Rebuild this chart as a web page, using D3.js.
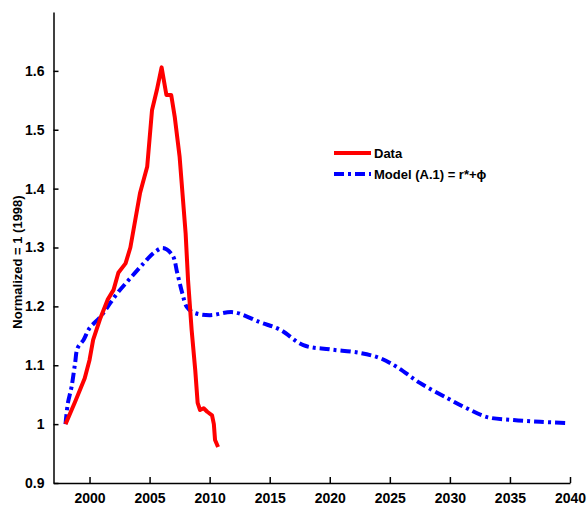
<!DOCTYPE html>
<html>
<head>
<meta charset="utf-8">
<script src="https://cdn.jsdelivr.net/npm/d3@7"></script>
<style>
  body { margin: 0; background: #fff; }
  svg text { font-family: "Liberation Sans", Arial, sans-serif; font-weight: bold; fill: #000; }
</style>
</head>
<body>
<div class="graph"></div>
<script>
// data
const dataYears = [1998, 1998.8, 1999.6, 2000.0, 2000.3, 2000.9, 2001.5, 2002.0, 2002.4, 2003.0, 2003.4, 2004.2, 2004.8, 2005.2, 2005.6, 2006.0, 2006.4, 2006.8, 2007.1, 2007.5, 2008.0, 2008.2, 2008.5, 2008.8, 2009.0, 2009.2, 2009.5, 2009.8, 2010.2, 2010.35, 2010.45, 2010.7];
const dataValues = [1.0, 1.038, 1.078, 1.109, 1.143, 1.18, 1.211, 1.228, 1.257, 1.273, 1.30, 1.392, 1.437, 1.533, 1.567, 1.606, 1.559, 1.559, 1.521, 1.454, 1.324, 1.245, 1.16, 1.092, 1.036, 1.024, 1.027, 1.021, 1.015, 1.0, 0.973, 0.961];

const modelYears = [1998, 1998.2, 1998.5, 1998.8, 1999.0, 1999.5, 2000.0, 2000.9, 2001.5, 2002.3, 2003.4, 2004.5, 2005.3, 2006.1, 2006.9, 2007.3, 2007.7, 2008.1, 2008.6, 2010.0, 2012.0, 2014.2, 2015.9, 2017.8, 2020.0, 2022.5, 2024.2, 2025.6, 2027.5, 2029.8, 2031.4, 2033.1, 2035.3, 2037.5, 2039.6];
const modelValues = [1.0, 1.036, 1.063, 1.104, 1.129, 1.143, 1.163, 1.182, 1.199, 1.222, 1.248, 1.273, 1.29, 1.299, 1.287, 1.257, 1.224, 1.199, 1.19, 1.185, 1.19, 1.173, 1.16, 1.134, 1.127, 1.121, 1.112, 1.097, 1.07, 1.044, 1.027, 1.012, 1.007, 1.004, 1.002];

const xTicks = [2000, 2005, 2010, 2015, 2020, 2025, 2030, 2035, 2040];
const yTicks = [0.9, 1, 1.1, 1.2, 1.3, 1.4, 1.5, 1.6];
const seriesNames = ["Data", "Model (A.1) = r*+\u03d5"];

//dimensions
const SIZE = {X: 587, Y: 506};
const MARGIN = {TOP: 12, BOTTOM: 23, LEFT: 53.5, RIGHT: 17};
const DIM = {WIDTH: SIZE.X - MARGIN.LEFT - MARGIN.RIGHT,
             HEIGHT: SIZE.Y - MARGIN.TOP - MARGIN.BOTTOM};

const svg = d3.select(".graph").append("svg")
    .attr("width", SIZE.X)
    .attr("height", SIZE.Y);

const graph = svg.append("g")
    .attr("transform", `translate(${MARGIN.LEFT}, ${MARGIN.TOP})`);

//scales
const x = d3.scaleLinear().domain([1997, 2040]).range([0, DIM.WIDTH]);
const y = d3.scaleLinear().domain([0.9, 1.7]).range([DIM.HEIGHT, 0]);

//axes, ticks pointing inward like matlab
const xAxis = graph.append("g")
    .attr("transform", `translate(0, ${DIM.HEIGHT})`)
    .call(d3.axisBottom(x).tickValues(xTicks).tickFormat(d3.format("d"))
        .tickSizeInner(-6).tickSizeOuter(0).tickPadding(10));

const yAxis = graph.append("g")
    .call(d3.axisLeft(y).tickValues(yTicks).tickFormat(d => d3.format("")(d))
        .tickSizeInner(-5).tickSizeOuter(0).tickPadding(9));

[xAxis, yAxis].forEach(a => {
    a.selectAll("text").style("font-size", "14px");
    a.select(".domain").attr("stroke", "#000").attr("stroke-width", 1.5);
    a.selectAll(".tick line").attr("stroke", "#000").attr("stroke-width", 1.5);
});
xAxis.selectAll("text").attr("dy", "0.71em");

//y label
svg.append("text")
    .attr("transform", "translate(22, 262) rotate(-90)")
    .attr("text-anchor", "middle")
    .style("font-size", "13px")
    .text("Normalized = 1 (1998)");

const line = d3.line()
    .x(d => x(d[0]))
    .y(d => y(d[1]));

const model = d3.zip(modelYears, modelValues);
const data = d3.zip(dataYears, dataValues);

graph.append("path")
    .datum(model)
    .attr("fill", "none")
    .attr("stroke", "#0000ff")
    .attr("stroke-width", 4)
    .attr("stroke-dasharray", "10,4,3,4")
    .attr("d", line.curve(d3.curveCatmullRom)(model));

graph.append("path")
    .datum(data)
    .attr("fill", "none")
    .attr("stroke", "#ff0000")
    .attr("stroke-width", 4)
    .attr("stroke-linejoin", "round")
    .attr("d", line.curve(d3.curveLinear)(data));

//legend
const legend = svg.append("g").attr("transform", "translate(334, 153)");
const styles = [{c: "#ff0000", dash: null}, {c: "#0000ff", dash: "10,4,3,4"}];
seriesNames.forEach((name, i) => {
    const row = legend.append("g").attr("transform", `translate(0, ${i * 21})`);
    row.append("line")
        .attr("x1", 0).attr("x2", 37)
        .attr("stroke", styles[i].c)
        .attr("stroke-width", 4)
        .attr("stroke-dasharray", styles[i].dash);
    row.append("text")
        .attr("x", 40)
        .attr("dy", "0.36em")
        .style("font-size", "13px")
        .text(name);
});
</script>
</body>
</html>
